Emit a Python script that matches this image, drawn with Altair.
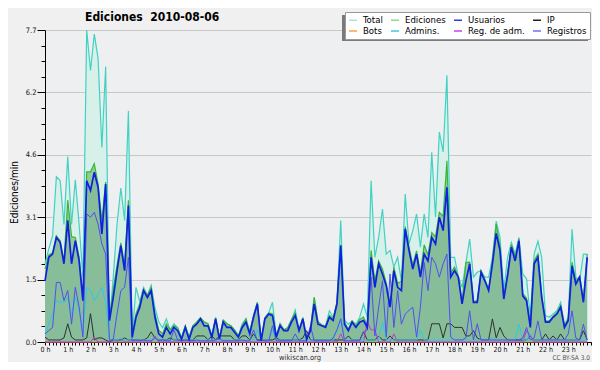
import altair as alt
import pandas as pd

# 10-minute slots over the day (minutes since 00:00)
slots = list(range(0, 1440, 10))

total = [
    1.93, 2.30, 2.62, 4.08, 3.98, 2.90, 4.58, 2.90, 4.00, 2.90, 1.60, 7.70,
    6.70, 7.60, 7.00, 4.80, 6.80, 0.45, 1.60, 2.90, 3.80, 3.00, 5.70, 0.15,
    1.35, 1.00, 1.35, 1.15, 1.40, 0.85, 0.50, 0.35, 0.57, 0.30, 0.45, 0.35,
    0.10, 0.40, 0.12, 0.40, 0.49, 0.60, 0.49, 0.45, 0.15, 0.60, 0.10, 0.54,
    0.45, 0.40, 0.30, 0.15, 0.45, 0.57, 0.25, 0.65, 0.98, 0.05, 0.60, 0.72,
    0.98, 0.15, 0.45, 0.30, 0.35, 0.55, 0.79, 0.30, 0.60, 0.10, 0.30, 1.10,
    0.49, 0.42, 0.40, 0.77, 0.61, 0.98, 3.00, 0.53, 0.44, 0.52, 0.44, 0.61,
    0.94, 0.61, 3.98, 2.09, 2.58, 3.28, 2.17, 2.26, 1.85, 2.09, 1.50, 3.65,
    2.42, 2.75, 3.16, 2.34, 3.16, 2.58, 4.68, 3.08, 5.18, 4.69, 6.58, 2.09,
    2.09, 1.62, 1.35, 1.96, 2.54, 1.60, 1.72, 1.76, 1.60, 1.60, 2.09, 2.98,
    2.58, 1.27, 2.09, 2.46, 2.17, 2.58, 1.68, 1.56, 0.61, 2.17, 2.49, 2.09,
    0.65, 0.61, 0.69, 0.77, 0.98, 0.44, 0.61, 2.79, 1.60, 1.51, 2.17, 2.17,
]

ediciones = [
    1.80, 2.15, 2.20, 2.62, 2.50, 2.00, 3.50, 2.60, 2.58, 2.10, 1.10, 4.20,
    4.20, 4.40, 3.90, 3.00, 3.95, 0.60, 1.30, 1.90, 2.45, 1.90, 3.50, 0.20,
    0.70, 0.95, 1.30, 1.15, 1.35, 0.70, 0.30, 0.20, 0.45, 0.30, 0.40, 0.35,
    0.10, 0.40, 0.12, 0.40, 0.49, 0.60, 0.49, 0.45, 0.15, 0.60, 0.10, 0.54,
    0.45, 0.40, 0.30, 0.15, 0.40, 0.57, 0.25, 0.65, 0.98, 0.05, 0.60, 0.72,
    0.70, 0.15, 0.45, 0.30, 0.35, 0.55, 0.72, 0.30, 0.60, 0.10, 0.30, 1.10,
    0.50, 0.42, 0.40, 0.66, 0.58, 0.98, 2.40, 0.48, 0.32, 0.52, 0.40, 0.55,
    0.62, 0.40, 2.26, 1.50, 2.00, 1.80, 1.45, 0.95, 1.85, 1.45, 1.50, 2.85,
    2.35, 1.90, 2.25, 1.70, 2.40, 2.15, 2.70, 2.60, 3.20, 3.10, 4.47, 1.70,
    1.85, 1.62, 1.00, 1.96, 1.97, 1.00, 1.02, 1.76, 1.55, 1.30, 2.00, 2.91,
    2.35, 1.10, 1.70, 2.40, 2.10, 2.55, 1.20, 1.08, 0.40, 2.00, 2.17, 1.15,
    0.52, 0.52, 0.64, 0.72, 0.90, 0.40, 0.56, 1.97, 1.50, 1.62, 1.02, 2.17,
]

usuarios = [
    1.51, 2.09, 2.17, 2.58, 2.46, 1.93, 3.00, 1.93, 2.50, 2.00, 1.02, 3.98,
    3.74, 4.19, 3.82, 2.67, 3.90, 0.53, 1.10, 1.76, 2.38, 1.76, 3.37, 0.12,
    0.61, 0.86, 1.27, 1.10, 1.27, 0.61, 0.20, 0.12, 0.36, 0.20, 0.36, 0.28,
    0.07, 0.36, 0.07, 0.36, 0.44, 0.57, 0.40, 0.40, 0.12, 0.57, 0.07, 0.49,
    0.36, 0.36, 0.24, 0.12, 0.36, 0.49, 0.20, 0.61, 0.94, 0.03, 0.57, 0.69,
    0.65, 0.12, 0.40, 0.28, 0.28, 0.49, 0.65, 0.28, 0.57, 0.07, 0.28, 0.94,
    0.44, 0.40, 0.36, 0.61, 0.53, 0.94, 2.38, 0.44, 0.28, 0.49, 0.36, 0.49,
    0.53, 0.36, 2.09, 1.35, 1.93, 1.68, 1.39, 0.86, 1.76, 1.35, 1.27, 2.79,
    2.26, 1.80, 2.17, 1.60, 2.17, 2.00, 2.58, 2.42, 3.08, 2.75, 3.82, 1.60,
    1.76, 1.60, 0.94, 1.51, 1.93, 0.98, 0.98, 1.72, 1.51, 1.27, 1.93, 2.68,
    2.26, 1.06, 1.64, 2.34, 2.00, 2.50, 1.14, 1.02, 0.36, 1.93, 2.09, 1.10,
    0.49, 0.49, 0.61, 0.69, 0.86, 0.36, 0.53, 1.88, 1.43, 1.60, 0.98, 2.09,
]

ip = [
    0.12, 0.05, 0.05, 0.05, 0.05, 0.10, 0.45, 0.12, 0.05, 0.05, 0.05, 0.10,
    0.70, 0.05, 0.10, 0.10, 0.05, 0.00, 0.05, 0.05, 0.05, 0.10, 0.05, 0.05,
    0.05, 0.05, 0.05, 0.10, 0.25, 0.10, 0.05, 0.05, 0.05, 0.10, 0.05, 0.05,
    0.05, 0.05, 0.05, 0.05, 0.15, 0.15, 0.15, 0.05, 0.15, 0.05, 0.15, 0.15,
    0.15, 0.15, 0.05, 0.05, 0.15, 0.15, 0.05, 0.20, 0.05, 0.05, 0.05, 0.05,
    0.05, 0.10, 0.05, 0.05, 0.05, 0.05, 0.05, 0.05, 0.10, 0.28, 0.05, 0.05,
    0.05, 0.05, 0.05, 0.05, 0.05, 0.05, 0.05, 0.05, 0.15, 0.05, 0.05, 0.05,
    0.25, 0.05, 0.05, 0.05, 0.15, 0.05, 0.05, 0.15, 0.05, 0.05, 0.05, 0.05,
    0.05, 0.05, 0.05, 0.05, 0.05, 0.05, 0.45, 0.45, 0.45, 0.10, 0.45, 0.45,
    0.36, 0.36, 0.36, 0.15, 0.15, 0.28, 0.10, 0.05, 0.05, 0.05, 0.57, 0.10,
    0.36, 0.15, 0.05, 0.05, 0.05, 0.05, 0.05, 0.05, 0.15, 0.05, 0.05, 0.05,
    0.20, 0.05, 0.15, 0.05, 0.20, 0.05, 0.05, 0.05, 0.05, 0.05, 0.28, 0.05,
]

bots = [0.0] * 144

admins = [
    0.20, 0.44, 0.70, 1.02, 0.98, 0.98, 1.10, 0.69, 1.10, 0.80, 0.20, 1.35,
    1.27, 1.02, 1.18, 1.35, 0.98, 0.07, 0.05, 0.05, 0.10, 0.05, 0.05, 0.05,
    0.05, 0.05, 0.05, 0.05, 0.05, 0.10, 0.05, 0.05, 0.05, 0.05, 0.05, 0.05,
    0.05, 0.05, 0.05, 0.05, 0.05, 0.05, 0.05, 0.05, 0.05, 0.05, 0.05, 0.05,
    0.05, 0.05, 0.05, 0.05, 0.05, 0.05, 0.05, 0.05, 0.30, 0.05, 0.05, 0.05,
    0.30, 0.05, 0.05, 0.05, 0.05, 0.05, 0.05, 0.05, 0.05, 0.05, 0.05, 0.05,
    0.05, 0.05, 0.05, 0.05, 0.05, 0.30, 0.60, 0.05, 0.05, 0.05, 0.05, 0.05,
    0.05, 0.05, 0.05, 0.05, 0.05, 0.50, 0.05, 0.05, 0.05, 0.05, 0.05, 0.05,
    0.05, 0.05, 0.05, 0.30, 0.05, 0.05, 0.05, 0.05, 0.05, 0.05, 0.05, 0.05,
    0.05, 0.05, 0.05, 0.05, 0.05, 0.05, 0.05, 0.05, 0.05, 0.05, 0.10, 0.05,
    0.05, 0.05, 0.05, 0.05, 0.05, 0.44, 0.05, 0.05, 0.20, 0.05, 0.05, 0.05,
    0.05, 0.05, 0.05, 0.05, 0.05, 0.05, 0.05, 0.05, 0.05, 0.05, 0.05, 0.05,
]

reg_adm = [
    0.00, 0.00, 0.00, 0.00, 0.00, 0.00, 0.00, 0.00, 0.00, 0.00, 0.00, 0.00,
    0.00, 0.12, 0.00, 0.00, 0.00, 0.00, 0.00, 0.00, 0.07, 0.00, 0.00, 0.00,
    0.00, 0.00, 0.00, 0.00, 0.00, 0.15, 0.00, 0.00, 0.00, 0.00, 0.00, 0.00,
    0.00, 0.00, 0.00, 0.00, 0.00, 0.00, 0.00, 0.00, 0.00, 0.00, 0.00, 0.00,
    0.00, 0.00, 0.00, 0.00, 0.00, 0.00, 0.00, 0.00, 0.00, 0.00, 0.00, 0.00,
    0.00, 0.00, 0.00, 0.00, 0.00, 0.00, 0.00, 0.00, 0.00, 0.00, 0.00, 0.00,
    0.00, 0.00, 0.00, 0.00, 0.00, 0.00, 0.20, 0.00, 0.00, 0.00, 0.00, 0.00,
    0.00, 0.50, 0.30, 0.30, 0.00, 0.00, 0.00, 0.00, 0.20, 0.00, 0.00, 0.00,
    0.00, 0.00, 0.00, 0.00, 0.00, 0.00, 0.00, 0.00, 0.00, 0.00, 0.00, 0.00,
    0.00, 0.00, 0.00, 0.00, 0.00, 0.00, 0.00, 0.00, 0.00, 0.00, 0.00, 0.00,
    0.00, 0.00, 0.00, 0.00, 0.00, 0.00, 0.00, 0.28, 0.15, 0.00, 0.00, 0.00,
    0.00, 0.00, 0.00, 0.00, 0.00, 0.00, 0.00, 0.00, 0.00, 0.00, 0.00, 0.00,
]

registros = [
    0.20, 0.28, 0.36, 1.47, 1.47, 1.02, 1.27, 0.44, 1.35, 0.86, 0.12, 3.16,
    3.08, 3.20, 2.91, 2.42, 2.17, 0.03, 0.07, 0.69, 1.27, 1.35, 2.09, 0.03,
    0.05, 0.03, 0.05, 0.03, 0.03, 0.10, 0.03, 0.05, 0.03, 0.03, 0.30, 0.05,
    0.03, 0.05, 0.03, 0.03, 0.05, 0.03, 0.03, 0.03, 0.03, 0.05, 0.08, 0.03,
    0.03, 0.03, 0.03, 0.03, 0.05, 0.03, 0.03, 0.30, 0.03, 0.05, 0.03, 0.03,
    0.40, 0.03, 0.03, 0.03, 0.03, 0.03, 0.20, 0.03, 0.03, 0.03, 0.40, 0.03,
    0.03, 0.03, 0.03, 0.03, 0.10, 0.30, 0.57, 0.03, 0.03, 0.03, 0.03, 0.03,
    0.25, 0.30, 1.60, 0.15, 0.86, 1.51, 0.12, 1.68, 0.36, 1.27, 0.44, 0.69,
    0.78, 0.86, 0.12, 0.86, 1.96, 1.27, 2.09, 1.93, 1.60, 1.93, 2.17, 0.12,
    0.05, 0.05, 0.05, 0.10, 0.77, 0.05, 0.45, 0.05, 0.05, 0.05, 0.05, 0.05,
    0.05, 0.05, 0.05, 0.05, 0.05, 0.05, 0.10, 0.36, 0.05, 0.10, 0.52, 0.05,
    0.05, 0.05, 0.05, 0.05, 0.05, 0.05, 0.20, 0.77, 0.10, 0.05, 0.44, 0.05,
]

legend_names = ["Total", "Ediciones", "Usuarios", "IP",
                "Bots", "Admins.", "Reg. de adm.", "Registros"]
legend_colors = ["#a8e6dc", "#8fd68f", "#3838d8", "#202020",
                 "#ffa040", "#40c8e0", "#d040e0", "#7070f0"]

y_ticks = [0.0, 0.385, 0.77, 1.155, 1.54, 1.925, 2.31, 2.695, 3.08, 3.465, 3.85,
           4.235, 4.62, 5.005, 5.39, 5.775, 6.16, 6.545, 6.93, 7.315, 7.7]
x_ticks = list(range(0, 1441, 10))

FONT = "DejaVu Sans Condensed, DejaVu Sans"

df = pd.DataFrame({
    "min": slots, "total": total, "edits": ediciones, "users": usuarios,
    "ip": ip, "bots": bots, "admins": admins, "regadm": reg_adm, "logs": registros,
})

major = "abs(datum.value / 1.54 - round(datum.value / 1.54)) < 0.01"

x_axis = alt.Axis(
    values=x_ticks, grid=False, title=None,
    labelExpr="datum.value % 60 == 0 && datum.value < 1440 ? (datum.value / 60) + ' h' : ''",
    labelOverlap=False, labelFlush=False, labelBound=False,
    tickSize=3, tickColor="#000", domainColor="#000",
    labelFont=FONT, labelFontSize=7, labelColor="#111", labelPadding=0,
)
y_axis = alt.Axis(
    values=y_ticks, title="Ediciones/min",
    labelExpr=f"{major} ? format(datum.value, '.1f') : ''",
    labelOverlap=False, labelFlush=False, labelBound=False,
    grid=True, gridColor="#c8c8c8",
    gridOpacity={"condition": {"test": major, "value": 1}, "value": 0},
    tickSize={"condition": {"test": major, "value": 8}, "value": 4},
    tickColor="#000", domainColor="#000",
    labelFont=FONT, labelFontSize=7.5, labelColor="#111", labelPadding=1,
    titleFont=FONT, titleFontSize=10, titleFontWeight="normal", titleColor="#000",
    titleX=-26, titleY=162, titleAngle=-90, titleBaseline="bottom", titleAlign="center",
)

xs = alt.Scale(domain=[0, 1440], nice=False)
ys = alt.Scale(domain=[0, 7.7], nice=False, zero=True)


def X():
    return alt.X("min:Q", scale=xs, axis=x_axis)


def Y(field):
    return alt.Y(f"{field}:Q", scale=ys, axis=y_axis)


base = alt.Chart(df)

layers = [
    base.mark_line(color="#ff9020", strokeWidth=1).encode(x=X(), y=Y("bots")),
    base.mark_area(color="#d8f0ea", opacity=1).encode(x=X(), y=Y("total")),
    base.mark_area(color="#93cb93", opacity=1).encode(x=X(), y=Y("edits")),
    base.mark_area(color="#2040d0", opacity=0.1).encode(x=X(), y=Y("users")),
    base.mark_line(color="#40d2c2", strokeWidth=1.2).encode(x=X(), y=Y("total")),
    base.mark_line(color="#3cb43c", strokeWidth=1.2).encode(x=X(), y=Y("edits")),
    base.mark_line(color="#303030", strokeWidth=1).encode(x=X(), y=Y("ip")),
    base.mark_line(color="#d030d0", strokeWidth=1).encode(x=X(), y=Y("regadm")),
    base.mark_line(color="#30c8e8", strokeWidth=1).encode(x=X(), y=Y("admins")),
    base.mark_line(color="#5050f0", strokeWidth=1).encode(x=X(), y=Y("logs")),
    base.mark_line(color="#1020e0", strokeWidth=1.7).encode(x=X(), y=Y("users")),
]

legend_df = pd.DataFrame({"serie": legend_names, "min": [0] * 8, "v": [0.0] * 8})
legend_layer = alt.Chart(legend_df).mark_line(strokeWidth=1.5).encode(
    x=X(), y=Y("v"),
    color=alt.Color(
        "serie:N",
        scale=alt.Scale(domain=legend_names, range=legend_colors),
        legend=alt.Legend(
            orient="none", legendX=300, legendY=-18, columns=4, direction="horizontal",
            title=None, fillColor="#ffffff", strokeColor="#999999", padding=3,
            rowPadding=1, columnPadding=5, symbolType="stroke", symbolSize=64,
            symbolStrokeWidth=1.5, labelFont=FONT, labelFontSize=9.5,
            labelColor="#000", labelOffset=5, cornerRadius=0,
        ),
    ),
)

one = pd.DataFrame({"a": [0]})
shadow = alt.Chart(one).mark_rect(color="#7a7a7a").encode(
    x=alt.value(297), x2=alt.value(543), y=alt.value(-15), y2=alt.value(11)
)

title_df = pd.DataFrame({"t": ["Ediciones\u00a0\u00a02010-08-06"]})
title = alt.Chart(title_df).mark_text(
    font=FONT, fontSize=12, fontWeight="bold", align="left", baseline="alphabetic", color="#000"
).encode(text="t:N", x=alt.value(40), y=alt.value(-9))

site_df = pd.DataFrame({"t": ["wikiscan.org"]})
site = alt.Chart(site_df).mark_text(
    font=FONT, fontSize=7.5, align="center", baseline="alphabetic", color="#333"
).encode(text="t:N", x=alt.value(255), y=alt.value(330.2))

lic_df = pd.DataFrame({"t": ["CC BY-SA 3.0"]})
lic = alt.Chart(lic_df).mark_text(
    font=FONT, fontSize=6.5, align="right", baseline="alphabetic", color="#555"
).encode(text="t:N", x=alt.value(545), y=alt.value(330.2))

chart = alt.layer(*layers, legend_layer, shadow, title, site, lic).properties(
    width=546, height=312,
    autosize=alt.AutoSizeParams(type="none"),
    padding={"left": 37, "top": 22, "right": 1, "bottom": 20},
    background="#f0f0f0",
).configure_view(fill="#eeeff1", stroke=None)

chart.save("out.html", embed_options={"renderer": "svg", "actions": False})
